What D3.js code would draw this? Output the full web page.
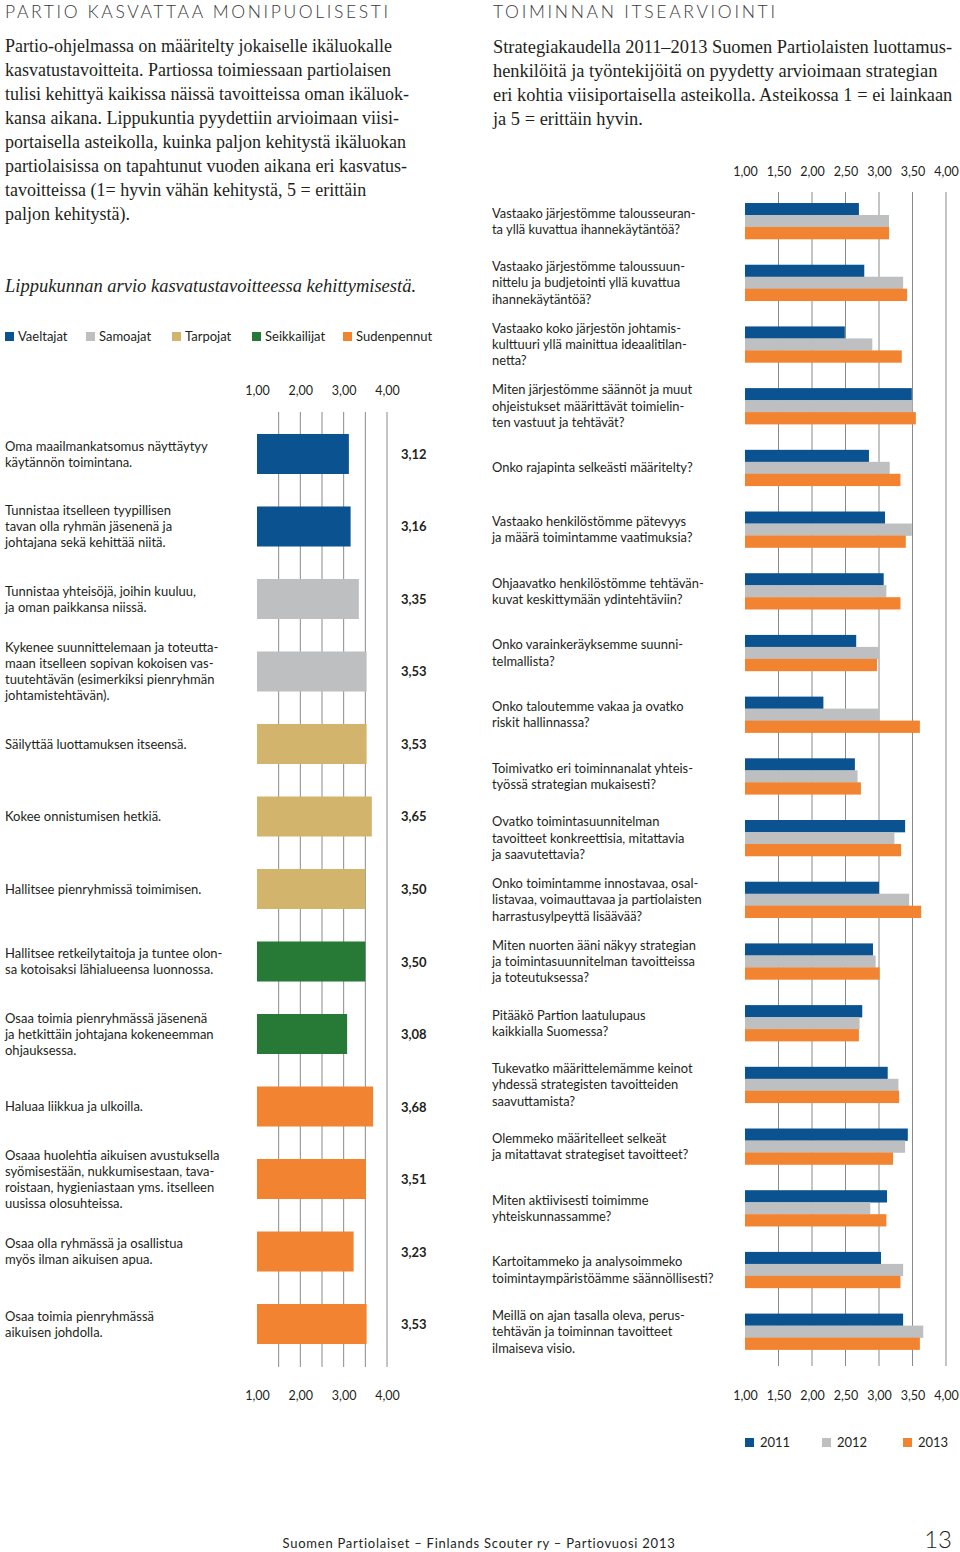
<!DOCTYPE html>
<html><head><meta charset="utf-8">
<script src="https://cdn.jsdelivr.net/npm/d3@7"></script>
<style>
html,body{margin:0;padding:0;background:#fff;}
svg{display:block;}
</style>
</head><body>
<svg id="c" width="960" height="1552"></svg>
<script>
// ---------- DATA ----------
const ageGroups = ["Vaeltajat","Samoajat","Tarpojat","Seikkailijat","Sudenpennut"];
const leftLabels = [
 "Oma maailmankatsomus näyttäytyy\nkäytännön toimintana.",
 "Tunnistaa itselleen tyypillisen\ntavan olla ryhmän jäsenenä ja\njohtajana sekä kehittää niitä.",
 "Tunnistaa yhteisöjä, joihin kuuluu,\nja oman paikkansa niissä.",
 "Kykenee suunnittelemaan ja toteutta-\nmaan itselleen sopivan kokoisen vas-\ntuutehtävän (esimerkiksi pienryhmän\njohtamistehtävän).",
 "Säilyttää luottamuksen itseensä.",
 "Kokee onnistumisen hetkiä.",
 "Hallitsee pienryhmissä toimimisen.",
 "Hallitsee retkeilytaitoja ja tuntee olon-\nsa kotoisaksi lähialueensa luonnossa.",
 "Osaa toimia pienryhmässä jäsenenä\nja hetkittäin johtajana kokeneemman\nohjauksessa.",
 "Haluaa liikkua ja ulkoilla.",
 "Osaaa huolehtia aikuisen avustuksella\nsyömisestään, nukkumisestaan, tava-\nroistaan, hygieniastaan yms. itselleen\nuusissa olosuhteissa.",
 "Osaa olla ryhmässä ja osallistua\nmyös ilman aikuisen apua.",
 "Osaa toimia pienryhmässä\naikuisen johdolla."
];
const leftGroups = ["Vaeltajat","Vaeltajat","Samoajat","Samoajat","Tarpojat","Tarpojat","Tarpojat","Seikkailijat","Seikkailijat","Sudenpennut","Sudenpennut","Sudenpennut","Sudenpennut"];
const leftValues = [3.12,3.16,3.35,3.53,3.53,3.65,3.50,3.50,3.08,3.68,3.51,3.23,3.53];
const leftTicks = [1,2,3,4];
const leftGrid = [1.5,2,2.5,3,3.5,4];

const years = ["2011","2012","2013"];
const rightLabels = [
 "Vastaako järjestömme talousseuran-\nta yllä kuvattua ihannekäytäntöä?",
 "Vastaako järjestömme taloussuun-\nnittelu ja budjetointi yllä kuvattua\nihannekäytäntöä?",
 "Vastaako koko järjestön johtamis-\nkulttuuri yllä mainittua ideaalitilan-\nnetta?",
 "Miten järjestömme säännöt ja muut\nohjeistukset määrittävät toimielin-\nten vastuut ja tehtävät?",
 "Onko rajapinta selkeästi määritelty?",
 "Vastaako henkilöstömme pätevyys\nja määrä toimintamme vaatimuksia?",
 "Ohjaavatko henkilöstömme tehtävän-\nkuvat keskittymään ydintehtäviin?",
 "Onko varainkeräyksemme suunni-\ntelmallista?",
 "Onko taloutemme vakaa ja ovatko\nriskit hallinnassa?",
 "Toimivatko eri toiminnanalat yhteis-\ntyössä strategian mukaisesti?",
 "Ovatko toimintasuunnitelman\ntavoitteet konkreettisia, mitattavia\nja saavutettavia?",
 "Onko toimintamme innostavaa, osal-\nlistavaa, voimauttavaa ja partiolaisten\nharrastusylpeyttä lisäävää?",
 "Miten nuorten ääni näkyy strategian\nja toimintasuunnitelman tavoitteissa\nja toteutuksessa?",
 "Pitääkö Partion laatulupaus\nkaikkialla Suomessa?",
 "Tukevatko määrittelemämme keinot\nyhdessä strategisten tavoitteiden\nsaavuttamista?",
 "Olemmeko määritelleet selkeät\nja mitattavat strategiset tavoitteet?",
 "Miten aktiivisesti toimimme\nyhteiskunnassamme?",
 "Kartoitammeko ja analysoimmeko\ntoimintaympäristöämme säännöllisesti?",
 "Meillä on ajan tasalla oleva, perus-\ntehtävän ja toiminnan tavoitteet\nilmaiseva visio."
];
const values2011 = [2.70,2.78,2.49,3.49,2.85,3.09,3.07,2.66,2.17,2.64,3.39,3.00,2.91,2.75,3.13,3.43,3.12,3.03,3.36];
const values2012 = [3.15,3.36,2.90,3.50,3.16,3.49,3.11,3.00,3.00,2.68,3.23,3.45,2.95,2.71,3.29,3.39,2.87,3.36,3.66];
const values2013 = [3.15,3.42,3.34,3.55,3.32,3.40,3.32,2.97,3.61,2.73,3.33,3.63,3.01,2.70,3.30,3.21,3.11,3.32,3.61];
const rightTicks = [1,1.5,2,2.5,3,3.5,4];
const rightGrid = [1.5,2,2.5,3,3.5,4];

const leftTitle = "PARTIO KASVATTAA MONIPUOLISESTI";
const rightTitle = "TOIMINNAN ITSEARVIOINTI";
const leftIntro = [
 "Partio-ohjelmassa on määritelty jokaiselle ikäluokalle",
 "kasvatustavoitteita. Partiossa toimiessaan partiolaisen",
 "tulisi kehittyä kaikissa näissä tavoitteissa oman ikäluok-",
 "kansa aikana. Lippukuntia pyydettiin arvioimaan viisi-",
 "portaisella asteikolla, kuinka paljon kehitystä ikäluokan",
 "partiolaisissa on tapahtunut vuoden aikana eri kasvatus-",
 "tavoitteissa (1= hyvin vähän kehitystä, 5 = erittäin",
 "paljon kehitystä)."
];
const rightIntro = [
 "Strategiakaudella 2011–2013 Suomen Partiolaisten luottamus-",
 "henkilöitä ja työntekijöitä on pyydetty arvioimaan strategian",
 "eri kohtia viisiportaisella asteikolla. Asteikossa 1 = ei lainkaan",
 "ja 5 = erittäin hyvin."
];
const leftSubtitle = "Lippukunnan arvio kasvatustavoitteessa kehittymisestä.";
const footerText = "Suomen Partiolaiset – Finlands Scouter ry – Partiovuosi 2013";
const pageNumber = "13";

// ---------- STYLE ----------
const SANS = "Lato, 'Open Sans', sans-serif";
const SERIF = "'Liberation Serif', 'DejaVu Serif', serif";
const INK = "#231f20";
const ageColor = d3.scaleOrdinal().domain(ageGroups).range(["#0b5291","#bdbfc1","#d3b46c","#267a35","#f28431"]);
const yearColor = d3.scaleOrdinal().domain(years).range(["#0b5291","#bdbfc1","#f28431"]);
const GRID = "#8a8a8a";
const fmt = d => d3.format(".2f")(d).replace(".", ",");

const svg = d3.select("#c");

// headings
svg.append("text").attr("x",5).attr("y",17.5).attr("font-family",SANS).attr("font-weight",300)
  .attr("font-size",17.5).attr("fill","#3a3a3a").attr("textLength",383).attr("lengthAdjust","spacing").text(leftTitle);
svg.append("text").attr("x",493).attr("y",17.5).attr("font-family",SANS).attr("font-weight",300)
  .attr("font-size",17.5).attr("fill","#3a3a3a").attr("textLength",282).attr("lengthAdjust","spacing").text(rightTitle);

function para(x, y0, lines, lh, size){
  const t = svg.append("text").attr("font-family",SERIF).attr("font-size",size).attr("fill",INK);
  lines.forEach((l,i)=> t.append("tspan").attr("x",x).attr("y",y0+i*lh).text(l));
}
para(5, 52, leftIntro, 24, 18);
para(493, 53, rightIntro, 24, 18.4);

svg.append("text").attr("x",5).attr("y",292).attr("font-family",SERIF).attr("font-style","italic")
  .attr("font-size",18.5).attr("fill",INK).text(leftSubtitle);

function multiline(g, x, cy, str, size, lh, anchor){
  const lines = str.split("\n");
  const t = g.append("text").attr("font-family",SANS).attr("font-size",size).attr("fill",INK)
    .attr("text-anchor",anchor||"start");
  const y0 = cy - (lines.length-1)*lh/2 + size*0.36;
  lines.forEach((l,i)=> t.append("tspan").attr("x",x).attr("y",y0+i*lh).text(l));
  return t;
}

// ---------- LEFT LEGEND ----------
const legL = svg.append("g");
const legLX = [5,86,172,252,343];
ageGroups.forEach((a,i)=>{
  legL.append("rect").attr("x",legLX[i]).attr("y",332).attr("width",9).attr("height",9).attr("fill",ageColor(a));
  legL.append("text").attr("x",legLX[i]+13).attr("y",341).attr("font-family",SANS).attr("font-size",13).attr("fill",INK).text(a);
});

// ---------- LEFT CHART ----------
const xL = d3.scaleLinear().domain([1,4]).range([257,387]);
const yL = d3.scaleBand().domain(d3.range(leftValues.length)).range([401.5,1376.5]).padding(0.448);
const gL = svg.append("g");
gL.selectAll("line.grid").data(leftGrid).join("line").attr("class","grid")
  .attr("x1",d=>xL(d)).attr("x2",d=>xL(d)).attr("y1",412).attr("y2",1367)
  .attr("stroke",GRID).attr("stroke-width",1);
gL.selectAll("rect.bar").data(leftValues).join("rect").attr("class","bar")
  .attr("x",xL(1)).attr("y",(d,i)=>yL(i)).attr("width",d=>xL(d)-xL(1)).attr("height",yL.bandwidth())
  .attr("fill",(d,i)=>ageColor(leftGroups[i]));
leftValues.forEach((v,i)=>{
  const cy = yL(i)+yL.bandwidth()/2;
  gL.append("text").attr("x",401).attr("y",cy+5).attr("font-family",SANS).attr("font-weight",700)
    .attr("font-size",13).attr("fill",INK).text(fmt(v));
  multiline(gL, 5, cy, leftLabels[i], 13, 16);
});
function axisLabels(scale, ticks, y){
  const g = svg.append("g").attr("transform",`translate(0,${y})`)
    .call(d3.axisTop(scale).tickValues(ticks).tickSize(0).tickPadding(0).tickFormat(fmt));
  g.select(".domain").remove();
  g.selectAll("text").attr("font-family",SANS).attr("font-size",12.5).attr("fill",INK);
}
axisLabels(xL, leftTicks, 395);
axisLabels(xL, leftTicks, 1400);

// ---------- RIGHT CHART ----------
const xR = d3.scaleLinear().domain([1,4]).range([745,946]);
const yR = d3.scaleBand().domain(d3.range(rightLabels.length)).range([177.3,1375.3]).padding(0.417);
const yInner = d3.scaleBand().domain(years).range([0,yR.bandwidth()]);
const series = {"2011":values2011,"2012":values2012,"2013":values2013};
const gR = svg.append("g");
gR.selectAll("line.grid").data(rightGrid).join("line").attr("class","grid")
  .attr("x1",d=>xR(d)).attr("x2",d=>xR(d)).attr("y1",192).attr("y2",1366)
  .attr("stroke",GRID).attr("stroke-width",1);
rightLabels.forEach((lab,i)=>{
  const grp = gR.append("g").attr("transform",`translate(0,${yR(i)})`);
  grp.selectAll("rect").data(years).join("rect")
    .attr("x",xR(1)).attr("y",yr=>yInner(yr)).attr("height",yInner.bandwidth()+0.3)
    .attr("width",yr=>xR(series[yr][i])-xR(1)).attr("fill",yr=>yearColor(yr));
  multiline(gR, 492, yR(i)+yR.bandwidth()/2, lab, 12.9, 16.3);
});
axisLabels(xR, rightTicks, 176);
axisLabels(xR, rightTicks, 1400);

// right legend
const legRX = [745,822,903];
years.forEach((y,i)=>{
  svg.append("rect").attr("x",legRX[i]).attr("y",1438).attr("width",9).attr("height",9).attr("fill",yearColor(y));
  svg.append("text").attr("x",legRX[i]+15).attr("y",1447).attr("font-family",SANS).attr("font-size",13).attr("fill",INK).text(y);
});

// footer
svg.append("text").attr("x",479).attr("y",1548).attr("text-anchor","middle").attr("font-family",SANS)
  .attr("font-size",13).attr("fill",INK).attr("letter-spacing",0.75).text(footerText);
svg.append("text").attr("x",952).attr("y",1548).attr("text-anchor","end").attr("font-family",SANS)
  .attr("font-weight",300).attr("font-size",24).attr("fill",INK).text(pageNumber);
</script>
</body></html>
